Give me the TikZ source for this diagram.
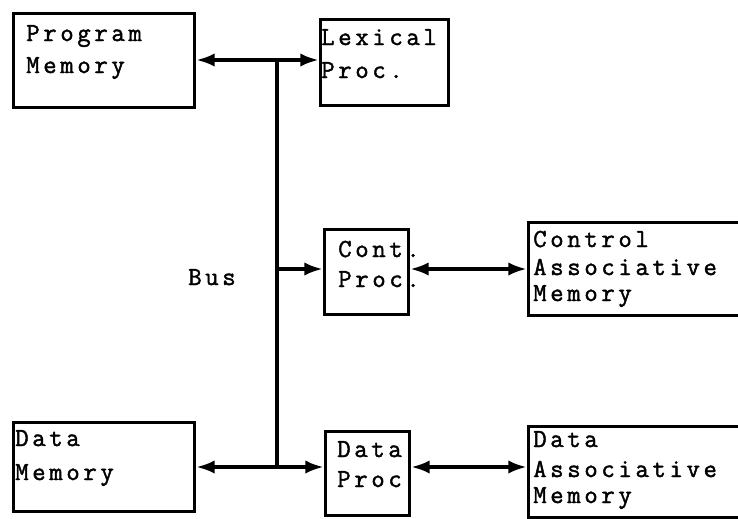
\documentclass[tikz,border=0pt]{standalone}
\usepackage{fontspec}
\setmonofont[FakeBold=1.6,LetterSpace=14]{Latin Modern Mono}
\usetikzlibrary{arrows.meta}
\begin{document}
\begin{tikzpicture}[x=0.75pt,y=-0.75pt,
  box/.style={draw,line width=2.2pt,rectangle,anchor=north west,inner sep=0pt},
  lbl/.style={anchor=base west,inner sep=0pt,font=\ttfamily\fontsize{19.5}{22}\selectfont},
  wire/.style={line width=3.2pt},
  arr/.style={wire,-{Latex[length=14pt,width=10pt]}},
  darr/.style={wire,{Latex[length=14pt,width=10pt]}-{Latex[length=14pt,width=10pt]}}]
\useasboundingbox (0,0) rectangle (738,518);
\begin{scope}
\clip (0,0) rectangle (738,518);
% boxes
\node[box,minimum width=135.75pt,minimum height=70.5pt] (pm) at (12,12) {};
\node[box,minimum width=96pt,minimum height=64.5pt] (lp) at (319,18) {};
\node[box,minimum width=63pt,minimum height=63.75pt] (cp) at (323,228) {};
\node[box,minimum width=163.5pt,minimum height=69.75pt] (cam) at (527,221) {};
\node[box,minimum width=135.75pt,minimum height=66.75pt] (dm) at (12,421) {};
\node[box,minimum width=63pt,minimum height=63pt] (dp) at (324,430) {};
\node[box,minimum width=163.5pt,minimum height=68.25pt] (dam) at (527,425) {};
\end{scope}
% texts
\node[lbl] (pm1) at (26,41) {Program};
\node[lbl] (pm2) at (26,73) {Memory};
\node[lbl] (lp1) at (321,45) {Lexical};
\node[lbl] (lp2) at (321,78) {Proc.};
\node[lbl] (cp1) at (338,257) {Cont.};
\node[lbl] (cp2) at (338,287) {Proc.};
\node[lbl] (cam1) at (533,247) {Control};
\node[lbl] (cam2) at (533,275) {Associative};
\node[lbl] (cam3) at (533,301) {Memory};
\node[lbl] (bus) at (188,285) {Bus};
\node[lbl] (dm1) at (15,446) {Data};
\node[lbl] (dm2) at (15,480) {Memory};
\node[lbl] (dp1) at (337,457) {Data};
\node[lbl] (dp2) at (337,487) {Proc};
\node[lbl] (dam1) at (533,447) {Data};
\node[lbl] (dam2) at (533,477) {Associative};
\node[lbl] (dam3) at (533,503) {Memory};
% bus
\coordinate (bt) at (277,60);
\coordinate (bm) at (277,269);
\coordinate (bb) at (277,467);
\draw[wire] (bt) -- (bb);
\draw[arr] (bt) -- (pm.east |- bt);
\draw[arr] (bt) -- (lp.west |- bt);
\draw[arr] (bm) -- (cp.west |- bm);
\draw[darr] (cp.east |- bm) -- (cam.west |- bm);
\draw[arr] (bb) -- (dm.east |- bb);
\draw[arr] (bb) -- (dp.west |- bb);
\draw[darr] (dp.east |- bb) -- (dam.west |- bb);
\end{tikzpicture}
\end{document}
